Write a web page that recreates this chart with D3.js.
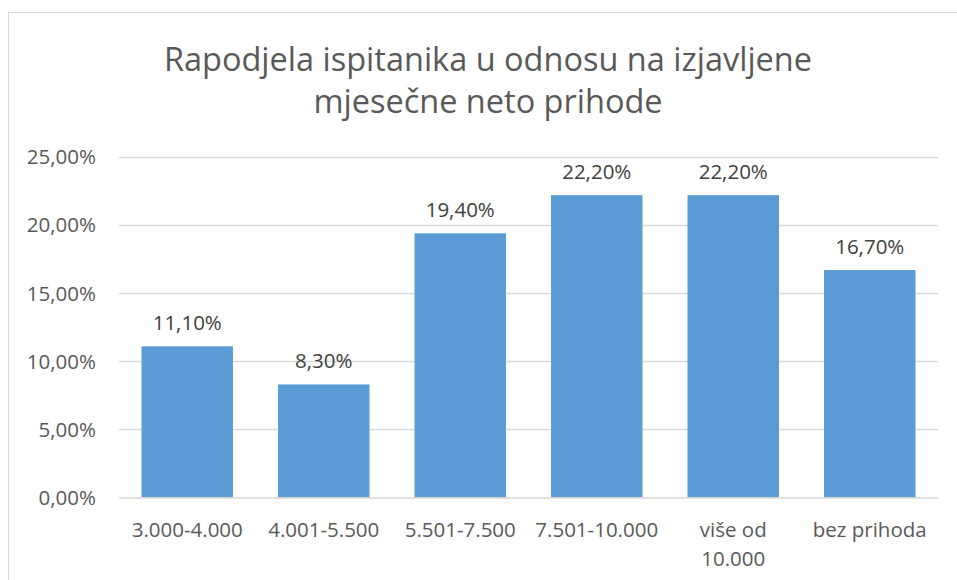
<!DOCTYPE html>
<html><head><meta charset="utf-8">
<script src="https://cdn.jsdelivr.net/npm/d3@7"></script>
<style>body{margin:0;background:#fff}svg{display:block}text{font-family:"Open Sans",sans-serif}</style>
</head><body>
<svg id="c" width="957" height="580"></svg>
<script>
const categories = ["3.000-4.000","4.001-5.500","5.501-7.500","7.501-10.000","više od 10.000","bez prihoda"];
const categoryLines = [["3.000-4.000"],["4.001-5.500"],["5.501-7.500"],["7.501-10.000"],["više od","10.000"],["bez prihoda"]];
const values = [0.111,0.083,0.194,0.222,0.222,0.167];
const yTicks = [0,0.05,0.10,0.15,0.20,0.25];
const titleLines = ["Rapodjela ispitanika u odnosu na izjavljene","mjesečne neto prihode"];

const svg = d3.select("#c");
const fmt = v => (v*100).toFixed(2).replace(".", ",") + "%";
const grey = "#595959";

svg.append("rect").attr("x",8.5).attr("y",12.5).attr("width",960).attr("height",600)
  .attr("fill","none").attr("stroke","#d9d9d9").attr("stroke-width",1);

const pLeft = 119, pRight = 938, pTop = 157, pBottom = 497.5;
const x = d3.scaleBand().domain(categories).range([pLeft,pRight]).paddingInner(0.33).paddingOuter(0.165);
const y = d3.scaleLinear().domain([0,0.25]).range([pBottom, pTop]);

svg.append("g").selectAll("line").data(yTicks.slice(1)).join("line")
  .attr("x1",pLeft).attr("x2",pRight).attr("y1",d=>Math.round(y(d))+0.5).attr("y2",d=>Math.round(y(d))+0.5)
  .attr("stroke","#d9d9d9").attr("stroke-width",1.3);

svg.append("g").selectAll("text").data(yTicks).join("text")
  .attr("x",96).attr("y",d=>y(d)).attr("dy","0.36em").attr("text-anchor","end")
  .attr("fill",grey).attr("font-size",20.5).text(fmt);

svg.append("g").selectAll("rect").data(values).join("rect")
  .attr("x",(d,i)=>x(categories[i])).attr("width",x.bandwidth())
  .attr("y",d=>y(d)).attr("height",d=>pBottom-y(d)).attr("fill","#5b9bd5");

svg.append("line").attr("x1",pLeft).attr("x2",pRight).attr("y1",pBottom+0.5).attr("y2",pBottom+0.5)
  .attr("stroke","#d9d9d9").attr("stroke-width",1.3);

svg.append("g").selectAll("text").data(values).join("text")
  .attr("x",(d,i)=>x(categories[i])+x.bandwidth()/2).attr("y",d=>y(d)-16)
  .attr("text-anchor","middle").attr("fill","#404040").attr("font-size",20.5).text(fmt);

const xl = svg.append("g").selectAll("text").data(categoryLines).join("text")
  .attr("x",(d,i)=>x(categories[i])+x.bandwidth()/2).attr("y",537)
  .attr("text-anchor","middle").attr("fill",grey).attr("font-size",20.5);
xl.selectAll("tspan").data(d=>d).join("tspan")
  .attr("x",function(){return this.parentNode.getAttribute("x");})
  .attr("dy",(d,i)=>i===0?0:29).text(d=>d);

svg.append("g").selectAll("text").data(titleLines).join("text")
  .attr("x",488).attr("y",(d,i)=>71+i*42).attr("text-anchor","middle")
  .attr("fill",grey).attr("font-size",32.5).text(d=>d);
</script>
</body></html>
